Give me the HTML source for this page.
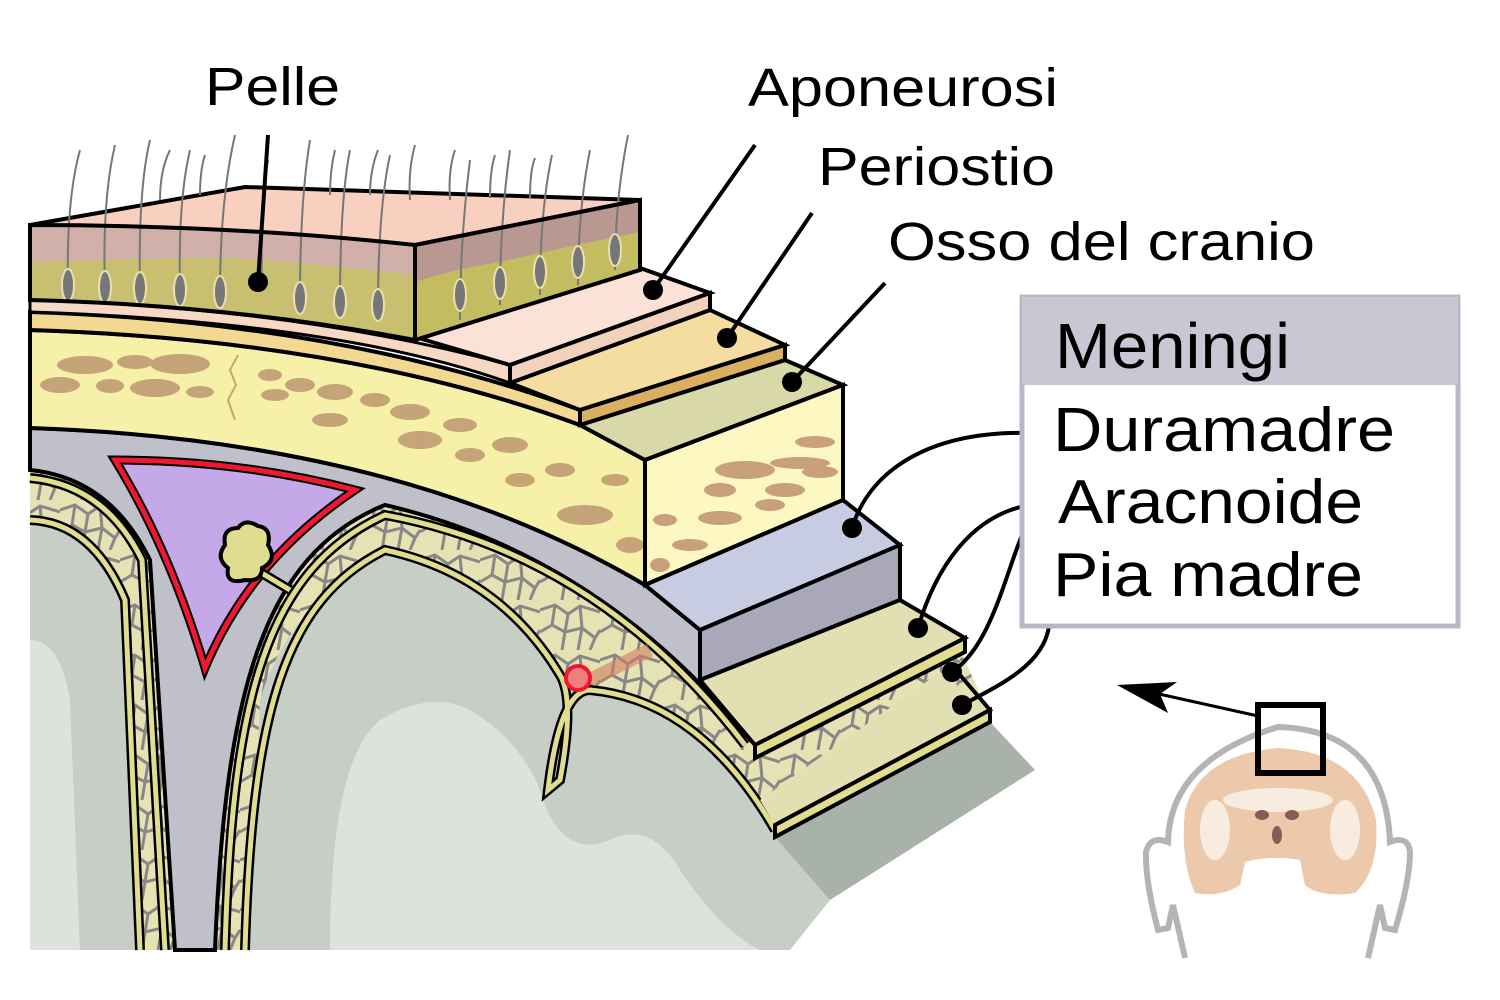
<!DOCTYPE html>
<html><head><meta charset="utf-8"><style>
html,body{margin:0;padding:0;background:#fff;}
svg{display:block;}
text{font-family:"Liberation Sans",Arial,sans-serif;fill:#000;}
</style></head><body>
<svg width="1500" height="1000" viewBox="0 0 1500 1000" xmlns="http://www.w3.org/2000/svg">
<defs>
<pattern id="web" width="60" height="50" patternUnits="userSpaceOnUse">
<rect width="60" height="50" fill="#e6e2b4"/>
<path d="M0,10 L15,5 L28,14 L40,6 L60,12 M15,5 L12,25 L25,32 L28,14 M25,32 L42,28 L40,6 M42,28 L55,38 L60,30 M12,25 L0,32 M25,32 L22,50 M42,28 L38,50 M55,38 L50,50" fill="none" stroke="#888" stroke-width="3"/>
</pattern>
</defs>

<!-- brain base -->
<path d="M30,470 L30,950 L790,950 L830,900 L775,830 Q700,700 590,690 L560,680 Q500,580 385,555 Q290,600 260,700 L250,950 L215,950 L140,950 L135,950 L120,600 Q90,525 30,525 Z" fill="#c6cec6"/>
<path d="M30,640 Q60,640 70,700 L80,950 L30,950 Z" fill="#dde2dc"/>
<path d="M330,950 Q330,760 380,720 Q430,690 470,710 Q520,740 540,790 Q560,860 610,840 Q650,820 680,870 Q720,930 760,950 Z" fill="#dde2dc"/>
<!-- shadow -->
<polygon points="775,837 990,722 1035,770 830,900" fill="#a9b2a9"/>

<!-- arachnoid web region: right gyrus -->
<path d="M205,950 C215,700 250,560 385,505 Q600,545 755,745 L775,830 Q700,700 590,690 L560,680 Q500,580 385,555 Q290,600 260,700 L250,950 Z" fill="url(#web)"/>
<!-- left gyrus web -->
<path d="M30,470 Q110,478 150,560 L175,950 L135,950 L120,600 Q90,525 30,525 Z" fill="url(#web)"/>

<!-- dura gray -->
<path d="M30,428 Q400,440 645,585 L700,630 L700,680 L752,742 Q600,555 385,505 C260,555 225,700 215,950 L175,950 L150,560 Q110,478 30,470 Z" fill="#bfc0c9" stroke="#000" stroke-width="4"/>
<!-- arachnoid outer yellow lines -->
<path d="M30,478 Q105,485 142,560 L165,950" fill="none" stroke="#000" stroke-width="10"/>
<path d="M30,478 Q105,485 142,560 L165,950" fill="none" stroke="#e0dc90" stroke-width="5"/>
<path d="M225,950 C232,700 265,570 385,515 Q600,555 745,745" fill="none" stroke="#000" stroke-width="10"/>
<path d="M225,950 C232,700 265,570 385,515 Q600,555 745,745" fill="none" stroke="#e0dc90" stroke-width="5"/>
<!-- pia lines -->
<path d="M30,520 Q92,522 125,600 L140,950" fill="none" stroke="#000" stroke-width="10"/>
<path d="M30,520 Q92,522 125,600 L140,950" fill="none" stroke="#e0dc90" stroke-width="5"/>
<path d="M245,950 C252,710 285,600 385,550 Q500,575 560,675 Q575,700 560,780 L548,790 Q560,690 590,690 Q700,700 775,830" fill="none" stroke="#000" stroke-width="10"/>
<path d="M245,950 C252,710 285,600 385,550 Q500,575 560,675 Q575,700 560,780 L548,790 Q560,690 590,690 Q700,700 775,830" fill="none" stroke="#e0dc90" stroke-width="5"/>
<path d="M590,680 L650,650" stroke="#d08060" stroke-width="14" opacity="0.6"/>
<circle cx="578" cy="678" r="12" fill="#f08080" stroke="#f01830" stroke-width="4"/>

<!-- sinus -->
<path d="M115,460 Q240,460 355,490 Q250,560 205,668 Q170,550 115,460 Z" fill="#c4a8e8" stroke="#000" stroke-width="9"/>
<path d="M115,460 Q240,460 355,490 Q250,560 205,668 Q170,550 115,460 Z" fill="none" stroke="#f01830" stroke-width="5"/>
<path d="M240,560 L290,590" stroke="#000" stroke-width="10"/>
<path d="M240,560 L290,590" stroke="#e0dc90" stroke-width="5"/>
<path d="M225,545 Q222,528 238,528 Q245,518 258,526 Q272,528 268,545 Q278,560 262,568 Q262,582 245,580 Q225,585 228,568 Q215,558 225,545 Z" fill="#e0dc90" stroke="#000" stroke-width="4"/>

<!-- bone curved -->
<path d="M30,330 Q350,340 580,425 L645,460 L645,585 Q400,440 30,428 Z" fill="#f6f0a8" stroke="#000" stroke-width="4"/>
<g fill="#c4a478">
<ellipse cx="85" cy="365" rx="28" ry="9"/><ellipse cx="135" cy="362" rx="18" ry="7"/><ellipse cx="180" cy="364" rx="30" ry="10"/>
<ellipse cx="60" cy="385" rx="20" ry="8"/><ellipse cx="110" cy="386" rx="14" ry="7"/><ellipse cx="155" cy="388" rx="25" ry="9"/><ellipse cx="200" cy="392" rx="14" ry="6"/>
<ellipse cx="270" cy="375" rx="12" ry="6"/><ellipse cx="300" cy="385" rx="15" ry="7"/><ellipse cx="335" cy="392" rx="18" ry="8"/><ellipse cx="275" cy="395" rx="14" ry="6"/><ellipse cx="375" cy="400" rx="15" ry="7"/>
<ellipse cx="410" cy="412" rx="20" ry="8"/><ellipse cx="460" cy="425" rx="17" ry="7"/><ellipse cx="330" cy="420" rx="18" ry="7"/><ellipse cx="420" cy="440" rx="22" ry="9"/><ellipse cx="470" cy="455" rx="15" ry="7"/>
<ellipse cx="510" cy="445" rx="18" ry="8"/><ellipse cx="560" cy="470" rx="15" ry="7"/><ellipse cx="520" cy="480" rx="15" ry="7"/><ellipse cx="585" cy="515" rx="28" ry="10"/><ellipse cx="615" cy="480" rx="14" ry="6"/><ellipse cx="630" cy="545" rx="14" ry="8"/>
</g>
<path d="M238,355 L230,370 L236,385 L228,400 L235,420" stroke="#c4a478" stroke-width="2" fill="none"/>
<!-- periosteum curved -->
<path d="M30,312 Q340,322 580,410 L580,425 Q350,340 30,330 Z" fill="#f2d890" stroke="#000" stroke-width="4"/>
<!-- aponeurosis curved -->
<path d="M30,300 Q300,308 510,365 L510,383 Q340,322 30,312 Z" fill="#f7d8c4" stroke="#000" stroke-width="3"/>

<!-- bone block -->
<polygon points="580,425 785,360 843,385 645,460" fill="#d8d8a8" stroke="#000" stroke-width="4"/>
<polygon points="645,460 843,385 843,500 645,585" fill="#fdf8c2" stroke="#000" stroke-width="4"/>
<g fill="#c8a07a">
<ellipse cx="815" cy="442" rx="20" ry="6"/><ellipse cx="745" cy="470" rx="30" ry="9"/><ellipse cx="800" cy="463" rx="30" ry="6"/>
<ellipse cx="720" cy="490" rx="16" ry="7"/><ellipse cx="785" cy="490" rx="20" ry="7"/><ellipse cx="820" cy="472" rx="18" ry="6"/>
<ellipse cx="665" cy="520" rx="12" ry="6"/><ellipse cx="720" cy="518" rx="22" ry="7"/><ellipse cx="770" cy="505" rx="15" ry="6"/><ellipse cx="690" cy="545" rx="18" ry="6"/><ellipse cx="660" cy="565" rx="10" ry="7"/>
</g>
<!-- periosteum block -->
<polygon points="510,383 710,310 785,345 580,410" fill="#f5dca0" stroke="#000" stroke-width="4"/>
<polygon points="580,410 785,345 785,360 580,425" fill="#d8b060" stroke="#000" stroke-width="4"/>
<!-- aponeurosis block -->
<polygon points="415,337 640,268 710,293 510,365" fill="#fce2d6" stroke="#000" stroke-width="4"/>
<polygon points="510,365 710,293 710,310 510,383" fill="#f2d2bc" stroke="#000" stroke-width="4"/>

<!-- skin -->
<polygon points="30,225 245,187 640,200 415,245" fill="#f9d0c0" stroke="#000" stroke-width="4"/>
<path d="M30,225 Q230,225 415,245 L415,340 Q230,305 30,300 Z" fill="#c8c070"/>
<path d="M30,225 Q230,225 415,245 L415,275 Q300,262 230,258 Q150,258 30,262 Z" fill="#d0b0a8"/>
<path d="M415,245 L640,200 L640,270 L415,340 Z" fill="#c4bc60"/>
<path d="M415,245 L640,200 L640,232 Q560,248 500,262 Q450,270 415,282 Z" fill="#b89890"/>
<g stroke="#777" stroke-width="2" fill="none">
<path d="M68,290 Q66,200 80,150"/><path d="M105,290 Q102,200 115,145"/><path d="M140,290 Q138,190 150,140"/><path d="M180,290 Q178,200 190,150"/><path d="M220,295 Q220,200 235,135"/>
<path d="M300,300 Q300,200 310,140"/><path d="M340,305 Q340,200 350,150"/><path d="M378,310 Q378,210 390,155"/><path d="M262,290 Q260,210 268,160"/>
<path d="M460,320 Q460,240 470,160"/><path d="M500,305 Q500,220 510,150"/><path d="M540,295 Q540,210 552,155"/><path d="M578,285 Q578,210 590,150"/><path d="M615,270 Q615,200 628,135"/>
<path d="M410,200 Q408,170 415,145"/><path d="M450,200 Q448,170 455,150"/><path d="M490,198 Q490,170 495,155"/><path d="M530,198 Q530,170 535,158"/><path d="M160,200 Q160,170 170,150"/><path d="M200,195 Q200,170 205,155"/><path d="M330,195 Q330,170 335,150"/><path d="M370,195 Q370,170 378,150"/>
</g>
<g fill="#777" stroke="#e8e0b0" stroke-width="2">
<ellipse cx="68" cy="285" rx="6" ry="16"/><ellipse cx="105" cy="287" rx="6" ry="16"/><ellipse cx="140" cy="288" rx="6" ry="16"/><ellipse cx="180" cy="290" rx="6" ry="16"/><ellipse cx="220" cy="292" rx="6" ry="16"/>
<ellipse cx="300" cy="298" rx="6" ry="16"/><ellipse cx="340" cy="302" rx="6" ry="16"/><ellipse cx="378" cy="305" rx="6" ry="16"/>
<ellipse cx="460" cy="295" rx="6" ry="16"/><ellipse cx="500" cy="283" rx="6" ry="16"/><ellipse cx="540" cy="272" rx="6" ry="16"/><ellipse cx="578" cy="262" rx="6" ry="16"/><ellipse cx="615" cy="250" rx="6" ry="16"/>
</g>
<path d="M30,225 Q230,225 415,245 L415,340 Q230,305 30,300 Z" fill="none" stroke="#000" stroke-width="4"/>
<path d="M415,245 L640,200 L640,270 L415,340 Z" fill="none" stroke="#000" stroke-width="4"/>

<!-- dura block -->
<polygon points="645,585 843,500 900,545 700,630" fill="#c8cce2" stroke="#000" stroke-width="4"/>
<polygon points="700,630 900,545 900,600 700,680" fill="#a8a8b8" stroke="#000" stroke-width="4"/>
<!-- arachnoid web under -->
<path d="M745,745 L960,650 L985,705 L775,830 Z" fill="url(#web)"/>
<!-- arachnoid slab -->
<polygon points="700,680 900,600 965,638 755,745" fill="#e2e0b2" stroke="#000" stroke-width="4"/>
<polygon points="755,745 965,638 965,652 755,758" fill="#e0dc90" stroke="#000" stroke-width="4"/>
<!-- pia slab -->
<polygon points="940,672 990,710 775,825 760,800" fill="#e2e0b2" stroke="none"/>
<path d="M960,675 L990,710 L775,825" fill="none" stroke="#000" stroke-width="4"/>
<polygon points="775,825 990,710 990,722 775,837" fill="#e0dc90" stroke="#000" stroke-width="4"/>

<!-- leader lines -->
<g stroke="#000" stroke-width="4" fill="none">
<line x1="268" y1="135" x2="258" y2="282"/>
<line x1="755" y1="145" x2="653" y2="290"/>
<line x1="812" y1="213" x2="727" y2="338"/>
<line x1="885" y1="283" x2="792" y2="382"/>
<path d="M1032,433 C930,430 870,470 852,528"/>
<path d="M1030,505 C970,515 935,570 918,628"/>
<path d="M1038,505 C1010,540 1000,640 952,672"/>
<path d="M1050,615 C1050,660 1010,680 962,705"/>
</g>
<g fill="#000">
<circle cx="258" cy="282" r="10"/><circle cx="653" cy="290" r="10"/><circle cx="727" cy="338" r="10"/><circle cx="792" cy="382" r="10"/>
<circle cx="852" cy="528" r="10"/><circle cx="918" cy="628" r="10"/><circle cx="952" cy="672" r="10"/><circle cx="962" cy="705" r="10"/>
</g>

<!-- labels -->
<text x="205" y="105" font-size="54" textLength="135" lengthAdjust="spacingAndGlyphs">Pelle</text>
<text x="748" y="106" font-size="54" textLength="310" lengthAdjust="spacingAndGlyphs">Aponeurosi</text>
<text x="818" y="185" font-size="54" textLength="237" lengthAdjust="spacingAndGlyphs">Periostio</text>
<text x="888" y="260" font-size="54" textLength="427" lengthAdjust="spacingAndGlyphs">Osso del cranio</text>

<!-- meningi box -->
<rect x="1022" y="297" width="436" height="329" fill="#fff" stroke="#b8b8c4" stroke-width="5"/>
<rect x="1022" y="297" width="436" height="88" fill="#c8c8d4"/>
<text x="1055" y="368" font-size="64" textLength="235" lengthAdjust="spacingAndGlyphs">Meningi</text>
<text x="1053" y="451" font-size="62" textLength="342" lengthAdjust="spacingAndGlyphs">Duramadre</text>
<text x="1058" y="523" font-size="62" textLength="305" lengthAdjust="spacingAndGlyphs">Aracnoide</text>
<text x="1053" y="596" font-size="62" textLength="310" lengthAdjust="spacingAndGlyphs">Pia madre</text>

<!-- inset head -->
<path d="M1185,958 L1173,905 L1168,928 L1158,930 Q1145,880 1146,852 Q1150,835 1168,842 Q1170,760 1278,727 Q1385,730 1390,842 Q1408,835 1410,852 Q1410,880 1395,930 L1385,928 L1380,905 L1368,958" fill="none" stroke="#b4b4b4" stroke-width="6"/>
<path d="M1185,810 Q1200,755 1278,748 Q1360,752 1376,820 Q1380,870 1355,893 Q1320,898 1305,885 L1300,860 Q1270,855 1245,862 L1240,885 Q1220,898 1195,893 Q1180,860 1185,810 Z" fill="#ebc9aa"/>
<g fill="#f8ece0"><ellipse cx="1278" cy="800" rx="55" ry="12"/><ellipse cx="1215" cy="830" rx="15" ry="30"/><ellipse cx="1345" cy="830" rx="15" ry="30"/></g>
<g fill="#8a5a58"><ellipse cx="1262" cy="815" rx="7" ry="5"/><ellipse cx="1292" cy="815" rx="7" ry="5"/><ellipse cx="1277" cy="835" rx="5" ry="9"/></g>
<rect x="1258" y="705" width="65" height="68" fill="none" stroke="#000" stroke-width="6"/>
<line x1="1258" y1="716" x2="1150" y2="692" stroke="#000" stroke-width="3"/>
<polygon points="1117,685 1177,682 1160,694 1168,713" fill="#000"/>
</svg>
</body></html>
